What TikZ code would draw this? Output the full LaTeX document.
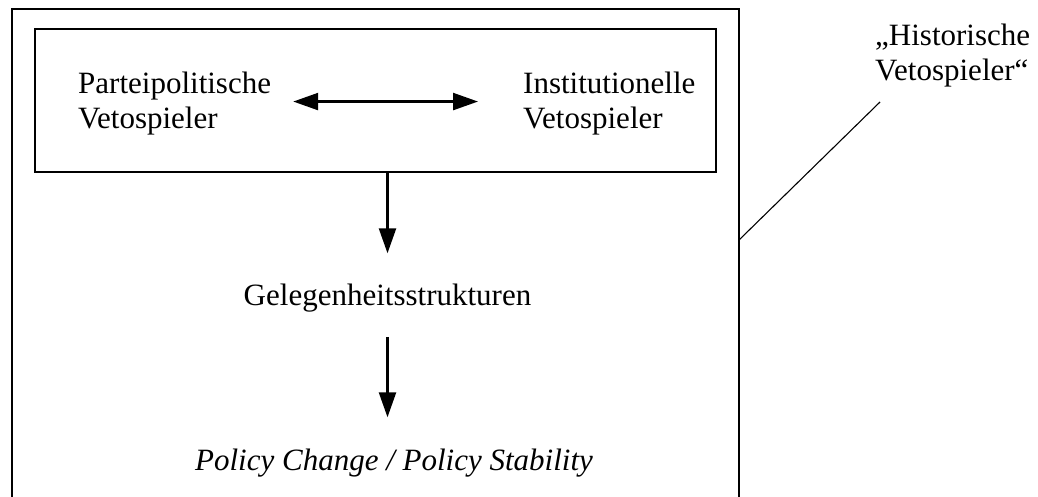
\documentclass[tikz,border=0pt]{standalone}
\usepackage{fontspec}
\setmainfont{Liberation Serif}
\usetikzlibrary{arrows.meta}
\begin{document}
\begin{tikzpicture}[x=1pt,y=-1pt,
  every node/.style={inner sep=0pt, font=\fontsize{31}{35}\selectfont},
  boxline/.style={line width=2.3pt},
  arr/.style={line width=2.4pt, -{Triangle[length=25pt,width=17pt]}},
  darr/.style={line width=2.4pt, {Triangle[length=25pt,width=17pt]}-{Triangle[length=25pt,width=17pt]}},
  thinline/.style={line width=1.1pt}]
\useasboundingbox (0,0) rectangle (1038,497);
% outer box (bottom edge beyond the picture)
\draw[boxline] (12,505) -- (12,9) -- (739,9) -- (739,505);
% inner box
\node[draw, boxline, minimum width=681pt, minimum height=143pt] (inner) at (375.5,100.5) {};
\node[anchor=north west, align=left] (party) at (78,71.8) {Parteipolitische\\Vetospieler};
\node[anchor=north west, align=left] (inst) at (523,71.8) {Institutionelle\\Vetospieler};
\node[anchor=base] (gel) at (387.5,305) {Gelegenheitsstrukturen};
\node[anchor=base] (pol) at (394,470) {\itshape Policy Change / Policy Stability};
\node[anchor=north west, align=left] (hist) at (875,23.8) {„Historische\\Vetospieler“};
\coordinate (edge) at (739,240);
\coordinate (lineend) at (880,102);
% connectors
\draw[darr, shorten <=22pt, shorten >=45pt] ([yshift=2pt]party.east) -- ([yshift=2pt]party.east -| inst.west);
\draw[arr, shorten >=30pt] (inner.south -| gel.north) -- (gel.north);
\draw[arr, shorten <=25pt, shorten >=31pt] (gel.south) -- (gel.south |- pol.north);
\draw[thinline] (edge) -- (lineend);
\end{tikzpicture}
\end{document}
